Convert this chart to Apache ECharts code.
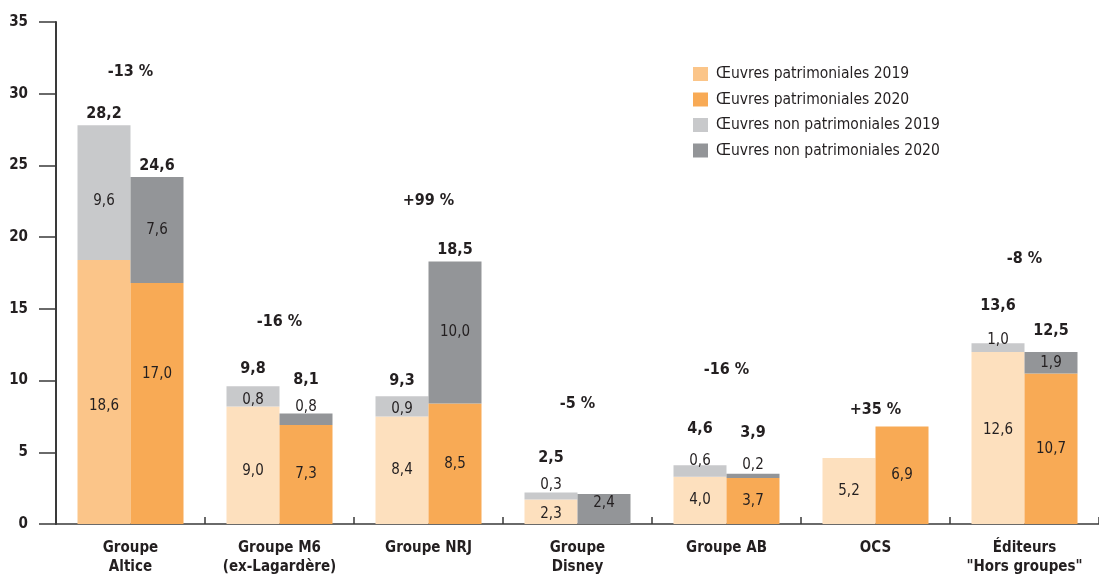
<!DOCTYPE html>
<html>
<head>
<meta charset="utf-8">
<script src="https://cdn.jsdelivr.net/npm/echarts@6/dist/echarts.min.js"></script>
<style>
  html, body { margin: 0; padding: 0; background: #fff; }
  #chart { width: 1099px; height: 577px; }
</style>
</head>
<body>
<div id="chart"></div>
<script>
// catégories (axe X)
const categories = ['Groupe\nAltice', 'Groupe M6\n(ex-Lagardère)', 'Groupe NRJ', 'Groupe\nDisney', 'Groupe AB', 'OCS', 'Éditeurs\n"Hors groupes"'];

// hauteurs des barres
const pat2019 = [18.4, 8.2, 7.5, 1.7, 3.3, 4.6, 12.0];
const nonPat2019 = [9.4, 1.4, 1.4, 0.5, 0.8, 0, 0.6];
const pat2020 = [16.8, 6.9, 8.4, 0, 3.2, 6.8, 10.5];
const nonPat2020 = [7.4, 0.8, 9.9, 2.1, 0.3, 0, 1.5];

// textes imprimés sur le graphique
const pat2019Labels = ['18,6', '9,0', '8,4', '2,3', '4,0', '5,2', '12,6'];
const nonPat2019Labels = ['9,6', '0,8', '0,9', '0,3', '0,6', '', '1,0'];
const pat2020Labels = ['17,0', '7,3', '8,5', '', '3,7', '6,9', '10,7'];
const nonPat2020Labels = ['7,6', '0,8', '10,0', '2,4', '0,2', '', '1,9'];
const total2019Labels = ['28,2', '9,8', '9,3', '2,5', '4,6', '', '13,6'];
const total2020Labels = ['24,6', '8,1', '18,5', '', '3,9', '', '12,5'];
const evolution = ['-13 %', '-16 %', '+99 %', '-5 %', '-16 %', '+35 %', '-8 %'];

const names = [
  'Œuvres patrimoniales 2019',
  'Œuvres patrimoniales 2020',
  'Œuvres non patrimoniales 2019',
  'Œuvres non patrimoniales 2020'
];

const textColor = '#231f20';
const axisColor = '#3a3a3a';
const narrow = "'Liberation Sans Narrow', 'DejaVu Sans Condensed', 'Roboto', sans-serif";

const colPat2019 = '#fbc589'; // Altice + légende
const colPat2019Light = '#fde0be';
const colPat2020 = '#f8aa55';
const colNonPat2019 = '#c8c9cb';
const colNonPat2020 = '#939598';

// petits décalages verticaux des étiquettes (px)
const shiftPat2019 = [14, 6, 0, 2, 0, 0, -8];
const shiftPat2020 = [-29, 0, 0, 0, 0, 0, 0];
const shiftNonPat2019 = [8, 4, 3, -11, -10, 0, -7];
const shiftNonPat2020 = [0, -12, 0, -6, -11, 0, 0];
const dist2019 = [3, 9, 8, 27, 28, 0, 29];
const dist2020 = [3, 26, 4, 0, 33, 0, 13];
const pctOffset = [-53, -64, -61, -89, -95, -17, -84];

const BAR_W = 53;

const segLabel = {
  show: true,
  position: 'inside',
  color: textColor,
  fontFamily: narrow,
  fontSize: 15
};

const makeSeg = (values, labels, shifts, colorFn) =>
  values.map((v, i) => ({
    value: v,
    itemStyle: colorFn ? { color: colorFn(i) } : undefined,
    label: { ...segLabel, formatter: labels[i], offset: [0, shifts[i]] }
  }));

const makeTotal = (labels, dists) =>
  labels.map((t, i) => ({
    value: 0,
    label: {
      show: t !== '',
      position: 'top',
      distance: dists[i],
      formatter: t,
      color: textColor,
      fontFamily: narrow,
      fontWeight: 'bold',
      fontSize: 16
    }
  }));

const tot2019 = pat2019.map((v, i) => v + nonPat2019[i]);
const tot2020 = pat2020.map((v, i) => v + nonPat2020[i]);
const pctData = evolution.map((t, i) => ({
  value: [i, Math.max(tot2019[i], tot2020[i])],
  label: { offset: [0, pctOffset[i]] }
}));

const barBase = { type: 'bar', barWidth: BAR_W, barGap: '0%', silent: true };

const option = {
  animation: false,
  backgroundColor: '#fff',
  textStyle: { fontFamily: narrow },
  grid: { left: 56, right: -7, top: 22, bottom: 50, containLabel: false },
  legend: {
    data: names,
    orient: 'vertical',
    left: 693,
    top: 66,
    padding: 0,
    icon: 'rect',
    itemWidth: 15,
    itemHeight: 14,
    itemGap: 9.5,
    textStyle: { color: textColor, fontFamily: narrow, fontSize: 15.5, padding: [0, 0, 0, 3] }
  },
  xAxis: {
    type: 'category',
    data: categories,
    axisLine: { lineStyle: { color: axisColor, width: 1.5 } },
    axisTick: { show: true, inside: true, length: 7, lineStyle: { color: axisColor, width: 1.5 } },
    axisLabel: {
      interval: 0,
      margin: 15,
      color: textColor,
      fontFamily: narrow,
      fontWeight: 'bold',
      fontSize: 15,
      lineHeight: 19,
      verticalAlign: 'top'
    }
  },
  yAxis: {
    type: 'value',
    min: 0,
    max: 35,
    interval: 5,
    axisLine: { show: true, lineStyle: { color: axisColor, width: 2 } },
    axisTick: { show: true, length: 17, lineStyle: { color: axisColor, width: 1.5 } },
    axisLabel: {
      margin: 28,
      color: textColor,
      fontFamily: narrow,
      fontWeight: 'bold',
      fontSize: 15
    },
    splitLine: { show: false }
  },
  series: [
    {
      ...barBase,
      name: names[0],
      stack: 's2019',
      itemStyle: { color: colPat2019 },
      data: makeSeg(pat2019, pat2019Labels, shiftPat2019, (i) => (i === 0 ? colPat2019 : colPat2019Light))
    },
    {
      ...barBase,
      name: names[2],
      stack: 's2019',
      itemStyle: { color: colNonPat2019 },
      data: makeSeg(nonPat2019, nonPat2019Labels, shiftNonPat2019)
    },
    {
      ...barBase,
      name: 'total2019',
      stack: 's2019',
      itemStyle: { color: 'transparent' },
      data: makeTotal(total2019Labels, dist2019)
    },
    {
      ...barBase,
      name: names[1],
      stack: 's2020',
      itemStyle: { color: colPat2020 },
      data: makeSeg(pat2020, pat2020Labels, shiftPat2020)
    },
    {
      ...barBase,
      name: names[3],
      stack: 's2020',
      itemStyle: { color: colNonPat2020 },
      data: makeSeg(nonPat2020, nonPat2020Labels, shiftNonPat2020)
    },
    {
      ...barBase,
      name: 'total2020',
      stack: 's2020',
      itemStyle: { color: 'transparent' },
      data: makeTotal(total2020Labels, dist2020)
    },
    {
      type: 'scatter',
      name: 'evolution',
      symbolSize: 0,
      silent: true,
      z: 5,
      itemStyle: { opacity: 1 },
      label: {
        show: true,
        position: 'inside',
        formatter: (p) => evolution[p.dataIndex],
        color: textColor,
        fontFamily: narrow,
        fontWeight: 'bold',
        fontSize: 16
      },
      data: pctData
    }
  ]
};

const chart = echarts.init(document.getElementById('chart'), null, { renderer: 'canvas' });
chart.setOption(option);
</script>
</body>
</html>
